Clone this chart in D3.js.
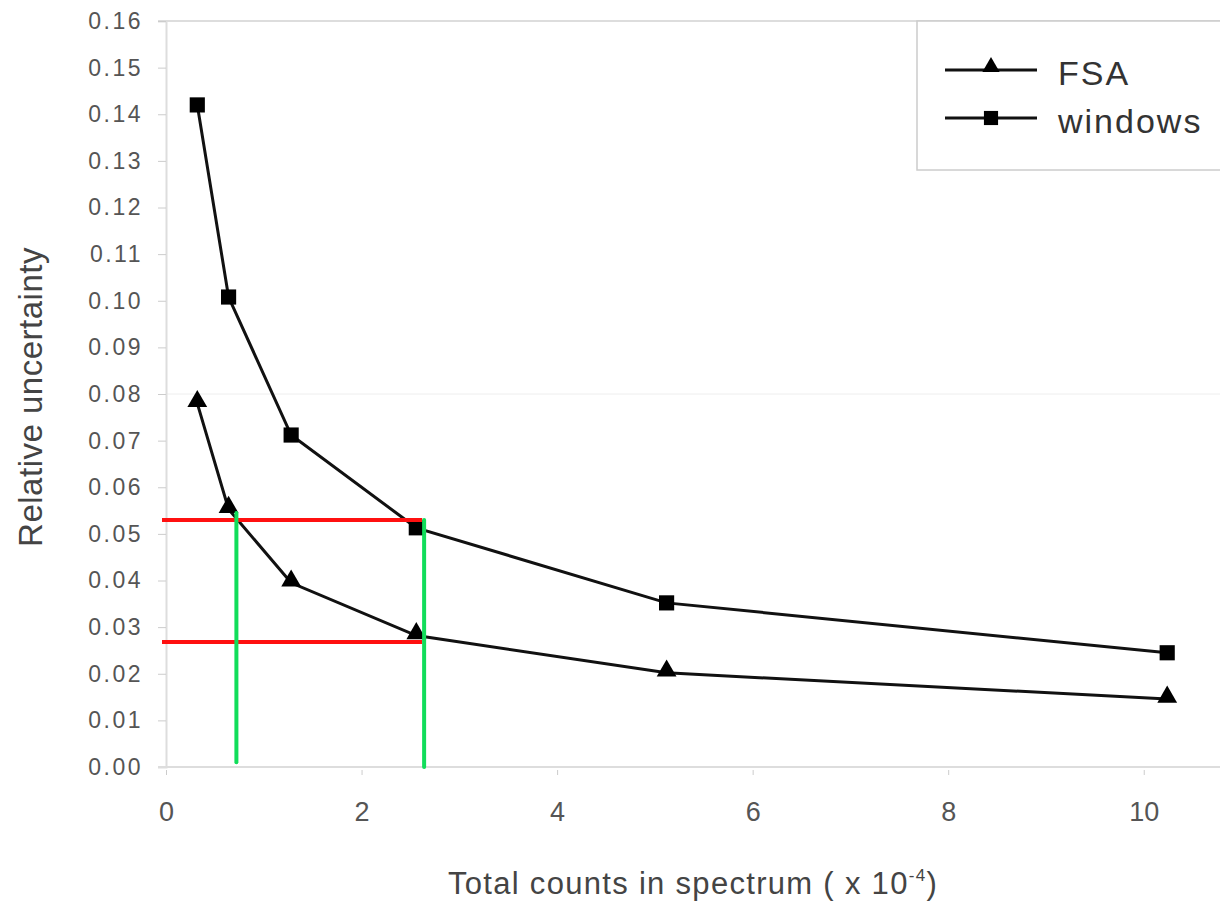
<html>
<head>
<style>
body { margin: 0; background: #fff; }
text { font-family: "Liberation Sans", Arial, sans-serif; }
.yTicks .tick text { fill: #555; font-size: 23px; letter-spacing: 2.5px; }
.xTicks .tick text { fill: #555; font-size: 27px; }
.tick line { stroke: #ccc; }
.domain { stroke: #ddd; }
.seriesLine { fill: none; stroke: #111; stroke-width: 3; }
</style>
</head>
<body>
<div id="vis"></div>
<script src="https://cdn.jsdelivr.net/npm/d3@7"></script>
<script>
// data
var counts = [0.32, 0.64, 1.28, 2.56, 5.12, 10.24];
var fsaValues = [0.078, 0.0553, 0.0395, 0.0282, 0.0202, 0.0146];
var windowsValues = [0.142, 0.1008, 0.0712, 0.0513, 0.0352, 0.0245];
var seriesNames = ["FSA", "windows"];
var xTicks = [0, 2, 4, 6, 8, 10];
var yTicks = d3.range(0, 0.161, 0.01);
// red / green guide lines
var redLevels = [0.053, 0.0268];
var redEnd = 2.62;
var greenLines = [{x: 0.72, top: 0.0545, bottom: 0.001}, {x: 2.64, top: 0.053, bottom: 0}];

var margin = {top: 21, right: 0, bottom: 142, left: 166},
    width = 1220 - margin.left - margin.right,
    height = 909 - margin.top - margin.bottom;

var x = d3.scaleLinear().domain([0, 10.78]).range([0, width]);
var y = d3.scaleLinear().domain([0, 0.16]).range([height, 0]);

var svg = d3.select("#vis").append("svg")
    .attr("width", 1220)
    .attr("height", 909)
  .append("g")
    .attr("transform", "translate(" + margin.left + "," + margin.top + ")");

// top frame line and faint gridline at 0.08
svg.append("line").attr("x1", -8).attr("x2", width).attr("y1", 0).attr("y2", 0)
    .attr("stroke", "#ddd").attr("stroke-width", 2);
svg.append("line").attr("x1", 0).attr("x2", width).attr("y1", y(0.08)).attr("y2", y(0.08))
    .attr("stroke", "#eee").attr("stroke-width", 1);

// axes
var yAxis = svg.append("g")
    .attr("class", "yTicks")
    .call(d3.axisLeft(y).tickValues(yTicks).tickSize(8).tickPadding(15)
      .tickFormat(d3.format(".2f")));
yAxis.select(".domain").attr("stroke-width", 2);

var xAxis = svg.append("g")
    .attr("class", "xTicks")
    .attr("transform", "translate(0," + height + ")")
    .call(d3.axisBottom(x).tickValues(xTicks).tickSize(8).tickPadding(27));
xAxis.select(".domain").attr("stroke-width", 2).attr("d", "M-8,0H" + width);
xAxis.selectAll(".tick line").attr("y1", 3);

// axis titles
svg.append("text")
    .attr("transform", "translate(" + (-124) + "," + 376 + ") rotate(-90)")
    .attr("text-anchor", "middle")
    .attr("fill", "#444")
    .attr("font-size", 33)
    .attr("letter-spacing", 0.5)
    .text("Relative uncertainty");

var xTitle = svg.append("text")
    .attr("x", 527)
    .attr("y", 873)
    .attr("text-anchor", "middle")
    .attr("fill", "#444")
    .attr("font-size", 31)
    .attr("letter-spacing", 1.3);
xTitle.append("tspan").text("Total counts in spectrum ( x 10");
xTitle.append("tspan").attr("dy", -13).attr("font-size", 17).text("-4");
xTitle.append("tspan").attr("dy", 13).text(")");

// series
var line = d3.line()
    .x(function(d) { return x(d[0]); })
    .y(function(d) { return y(d[1]); });

var fsaData = counts.map(function(c, i) { return [c, fsaValues[i]]; });
var windowsData = counts.map(function(c, i) { return [c, windowsValues[i]]; });

svg.append("path").datum(windowsData).attr("class", "seriesLine").attr("d", line);
svg.append("path").datum(fsaData).attr("class", "seriesLine").attr("d", line);

var tri = d3.symbol().type(d3.symbolTriangle).size(170);
var sq = d3.symbol().type(d3.symbolSquare).size(230);
var legendTri = d3.symbol().type(d3.symbolTriangle).size(130);
var legendSq = d3.symbol().type(d3.symbolSquare).size(200);

svg.selectAll(".winDot")
    .data(windowsData)
  .enter().append("path")
    .attr("class", "winDot")
    .attr("d", sq)
    .attr("fill", "#000")
    .attr("transform", function(d) { return "translate(" + x(d[0]) + "," + y(d[1]) + ")"; });

svg.selectAll(".fsaDot")
    .data(fsaData)
  .enter().append("path")
    .attr("class", "fsaDot")
    .attr("d", tri)
    .attr("fill", "#000")
    .attr("transform", function(d) { return "translate(" + x(d[0]) + "," + (y(d[1]) - 2) + ")"; });

// guide lines
svg.selectAll(".redLine")
    .data(redLevels)
  .enter().append("line")
    .attr("x1", -4).attr("x2", x(redEnd))
    .attr("y1", function(d) { return y(d); })
    .attr("y2", function(d) { return y(d); })
    .attr("stroke", "#ff1010").attr("stroke-width", 4);

svg.selectAll(".greenLine")
    .data(greenLines)
  .enter().append("line")
    .attr("x1", function(d) { return x(d.x); })
    .attr("x2", function(d) { return x(d.x); })
    .attr("y1", function(d) { return y(d.top); })
    .attr("y2", function(d) { return y(d.bottom); })
    .attr("stroke", "#11dd5a").attr("stroke-width", 4)
    .attr("stroke-linecap", "round");

// legend
var legend = svg.append("g").attr("transform", "translate(751,0)");
legend.append("rect")
    .attr("x", 0).attr("y", 0).attr("width", 320).attr("height", 149)
    .attr("fill", "#fff").attr("stroke", "#ccc").attr("stroke-width", 1.5);

var legendItems = legend.selectAll(".item")
    .data(seriesNames)
  .enter().append("g")
    .attr("transform", function(d, i) { return "translate(0," + (49 + i * 48) + ")"; });

legendItems.append("line")
    .attr("x1", 28).attr("x2", 120).attr("y1", 0).attr("y2", 0)
    .attr("stroke", "#111").attr("stroke-width", 3);
legendItems.append("path")
    .attr("d", function(d, i) { return i === 0 ? legendTri() : legendSq(); })
    .attr("fill", "#000")
    .attr("transform", function(d, i) { return "translate(74," + (i === 0 ? -3 : 0) + ")"; });
legendItems.append("text")
    .attr("x", 141).attr("y", 15)
    .attr("fill", "#333")
    .attr("font-size", 34)
    .attr("letter-spacing", 2)
    .text(function(d) { return d; });
</script>
</body>
</html>
